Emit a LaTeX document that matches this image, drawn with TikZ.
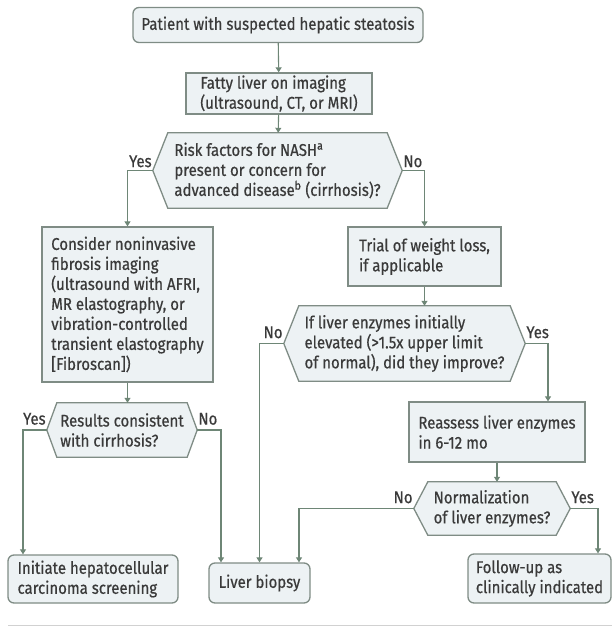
\documentclass[tikz,border=0pt]{standalone}
\usepackage{fontspec}
\setmainfont{Fira Sans}[FakeStretch=0.88, FakeBold=0.6]
\usepackage{tikz}
\usetikzlibrary{arrows.meta,backgrounds}

\definecolor{fillC}{HTML}{EDF2F4}
\definecolor{lineC}{HTML}{7F8C85}
\definecolor{arrC}{HTML}{6E8676}
\definecolor{textC}{HTML}{3A3A3A}

% hexagon frame round a decision node
\newcommand{\hexa}[2]{\draw[decline] ([xshift=#2]#1.north west) -- ([xshift=-#2]#1.north east)
  -- (#1.east) -- ([xshift=-#2]#1.south east) -- ([xshift=#2]#1.south west) -- (#1.west) -- cycle;}

\begin{document}
\begin{tikzpicture}[x=1pt, y=-1pt,
    txt/.style={font=\fontsize{17}{20}\selectfont, text=textC},
    box/.style={txt, draw=lineC, fill=fillC, line width=1.3pt, align=left, inner sep=0pt},
    term/.style={box, rounded corners=6pt},
    dec/.style={txt, align=left, inner sep=0pt},
    decline/.style={draw=lineC, fill=fillC, line width=1.3pt},
    yn/.style={txt, inner sep=1pt},
    arr/.style={->, draw=arrC, line width=1.1pt},
    >={Triangle[width=6pt,length=5pt]}]
  \useasboundingbox (0,0) rectangle (612,626);

  \node[term, minimum width=290pt, minimum height=35pt] (start) at (278,25) {Patient with suspected hepatic steatosis};
  \node[box, minimum width=186pt, minimum height=41pt] (fatty) at (279,93.5) {Fatty liver on imaging\\(ultrasound, CT, or MRI)};
  \node[dec, minimum width=249pt, minimum height=75pt] (risk) at (277.5,170.5) {Risk factors for NASH\textsuperscript{a}\\present or concern for\\advanced disease\textsuperscript{b} (cirrhosis)?};
  \node[box, minimum width=171pt, minimum height=155pt] (consider) at (127.5,304.5) {Consider noninvasive\\fibrosis imaging\\(ultrasound with AFRI,\\MR elastography, or\\vibration-controlled\\transient elastography\\{[Fibroscan]})};
  \node[box, minimum width=153pt, minimum height=59pt] (trial) at (424.5,256.5) {Trial of weight loss,\\if applicable};
  \node[dec, minimum width=241pt, minimum height=75pt] (enz) at (404.5,343.5) {If liver enzymes initially\\elevated (>1.5x upper limit\\of normal), did they improve?};
  \node[dec, minimum width=150pt, minimum height=54pt] (results) at (122,430) {Results consistent\\with cirrhosis?};
  \node[box, minimum width=176pt, minimum height=60pt] (reassess) at (497,432) {Reassess liver enzymes\\in 6-12 mo};
  \node[dec, minimum width=156pt, minimum height=53pt] (norm) at (492,508.5) {Normalization\\of liver enzymes?};
  \node[term, minimum width=170pt, minimum height=48pt] (initiate) at (93,579) {Initiate hepatocellular\\carcinoma screening};
  \node[term, minimum width=101pt, minimum height=40pt] (biopsy) at (259.5,583) {Liver biopsy};
  \node[term, minimum width=143pt, minimum height=49pt] (follow) at (539.5,578.5) {Follow-up as\\clinically indicated};

  \begin{scope}[on background layer]
    \foreach \n/\s in {risk/15, enz/15, results/10, norm/14}
      {\hexa{\n}{\s pt}}
  \end{scope}

  % yes / no labels
  \node[yn, anchor=south east] (riskY) at ([yshift=2pt]risk.west) {Yes};
  \node[yn, anchor=south west] (riskN) at ([yshift=2pt]risk.east) {No};
  \node[yn, anchor=south east] (enzN) at ([yshift=4pt]enz.west) {No};
  \node[yn, anchor=south west] (enzY) at ([yshift=4pt]enz.east) {Yes};
  \node[yn, anchor=south east] (resY) at ([yshift=4pt]results.west) {Yes};
  \node[yn, anchor=south west] (resN) at ([yshift=4pt]results.east) {No};
  \node[yn, anchor=south east] (normN) at ([yshift=4pt]norm.west) {No};
  \node[yn, anchor=south west] (normY) at ([yshift=4pt]norm.east) {Yes};

  \draw[arr] (start) -- (fatty);
  \draw[arr] (fatty) -- (risk);
  \draw[arr] (risk.west) -| (consider.north);
  \draw[arr] (risk.east) -| (trial.north);
  \draw[arr] (consider.south) -- (consider.south |- results.north);
  \draw[arr] (trial.south) -- (trial.south |- enz.north);
  \draw[arr] (enz.west) -| (biopsy.north);
  \draw[arr] (enz.east) -| ([xshift=51pt]reassess.north);
  \draw[arr] (reassess.south) -- (reassess.south |- norm.north);
  \draw[arr] (norm.west) -| ([xshift=39.5pt]biopsy.north);
  \draw[arr] (norm.east) -| ([xshift=58.5pt]follow.north);
  \draw[arr] (results.west) -| ([xshift=-70pt]initiate.north);
  \draw[arr] (results.east) -| ([xshift=-38.5pt]biopsy.north);

  \draw[draw=black!18, line width=1pt] (8,625) -- (612,625);
\end{tikzpicture}
\end{document}
